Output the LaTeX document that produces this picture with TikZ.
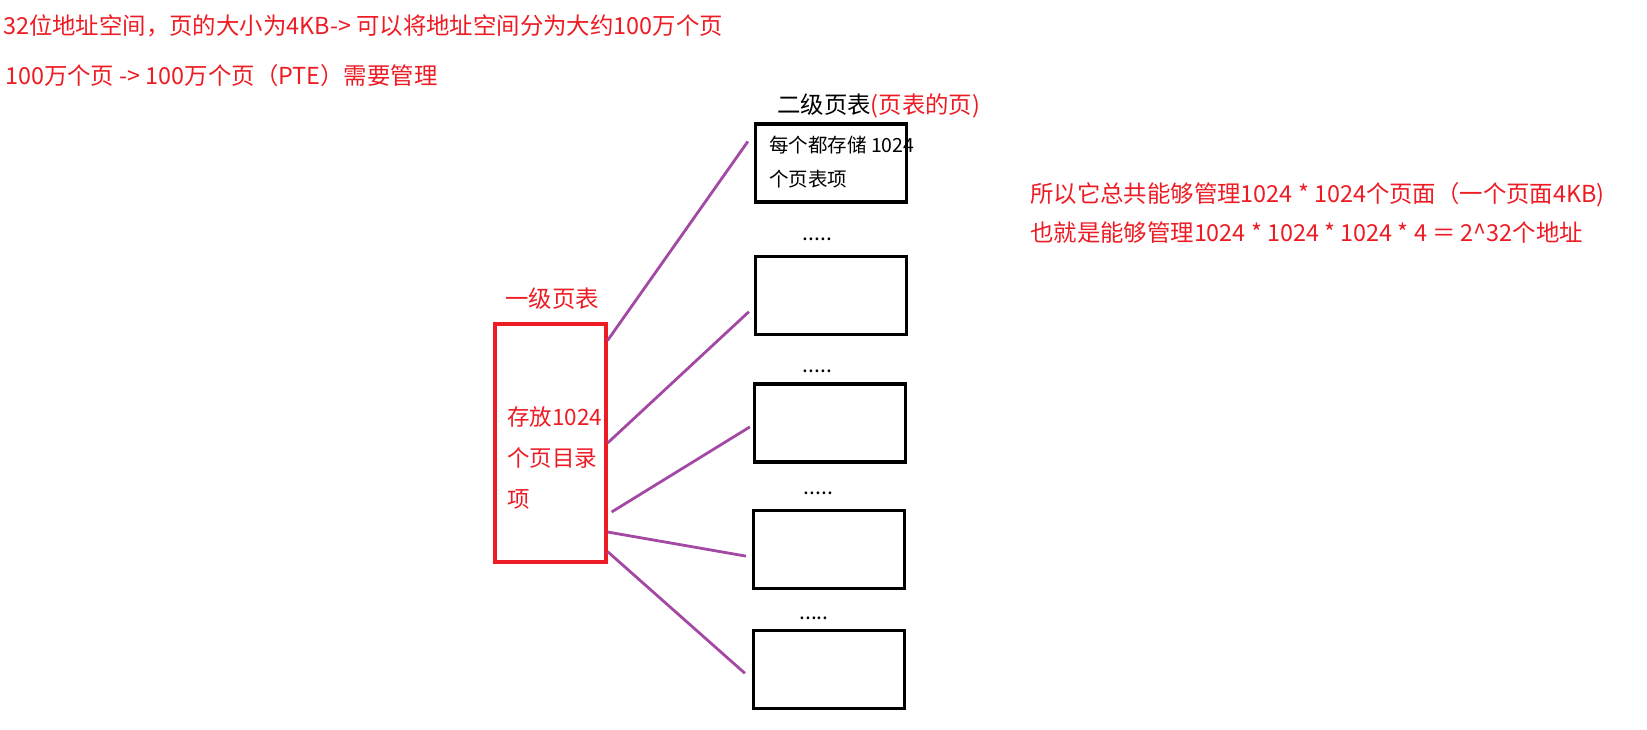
\documentclass[tikz,border=0pt]{standalone}
\usepackage{fontspec}
\setmainfont{Noto Sans CJK SC}
\usetikzlibrary{positioning}
\definecolor{pagered}{HTML}{ED1C24}
\definecolor{linkpurple}{HTML}{A349A4}

\begin{document}
\begin{tikzpicture}[x=1pt,y=-1pt, node distance=50pt,
  tbl/.style={draw,line width=3.2pt,minimum width=151pt,minimum height=78pt,inner sep=0pt},
  note/.style={text=pagered,inner sep=0pt,anchor=west,align=left,font=\fontsize{23.4}{39}\selectfont},
  dots/.style={inner sep=0pt,anchor=base,font=\fontsize{21}{24}\selectfont},
  link/.style={draw=linkpurple,line width=2.8pt}]
\useasboundingbox (0,0) rectangle (1647,729);
% notes at the top and on the right
\node[note] (head1) at (3,26) {32位地址空间，页的大小为4KB-> 可以将地址空间分为大约100万个页};
\node[note] (head2) at (5,76) {100万个页 -> 100万个页（PTE）需要管理};
\node[note] (sum) at (1030,213) {所以它总共能够管理1024 * 1024个页面（一个页面4KB)\\也就是能够管理1024 * 1024 * 1024 * 4 ＝ 2\^{}32个地址};
% first level table
\node[draw=pagered,line width=3.2pt,minimum width=111pt,minimum height=238pt,inner sep=0pt] (l1) at (550.5,443) {};
\node[note,font=\fontsize{22.5}{41}\selectfont] (l1txt) at (507,458) {存放1024\\个页目录\\项};
\node[note,anchor=center] (l1title) at (552,299) {一级页表};
% second level tables
\node[tbl] (l2a) at (831,163) {};
\node[anchor=west,inner sep=0pt,font=\fontsize{23.4}{26}\selectfont] (l2title) at (777,106) {二级页表\textcolor{pagered}{(页表的页)}};
\node[anchor=west,inner sep=0pt,align=left,font=\fontsize{19.5}{34}\selectfont] (l2txt) at (769,162) {每个都存储 1024\\个页表项};
\node[tbl,below=51.5pt of l2a] (l2b) {};
\node[tbl,below=46pt of l2b,xshift=-1pt] (l2c) {};
\node[tbl,below=45pt of l2c,xshift=-1pt] (l2d) {};
\node[tbl,below=39pt of l2d] (l2e) {};
\node[dots] (d1) at (817.5,240) {.....};
\node[dots] (d2) at (817.5,372) {.....};
\node[dots] (d3) at (818.5,494) {.....};
\node[dots] (d4) at (814,619) {.....};
% links
\draw[link] ([yshift=-18pt]l1.north east) -- ([xshift=-6pt,yshift=-19pt]l2a.north west);
\draw[link] (l1.east) -- ([xshift=-5pt,yshift=-16pt]l2b.west);
\draw[link] ([xshift=4pt,yshift=-69pt]l1.east) -- ([xshift=-3pt,yshift=-4pt]l2c.west);
\draw[link] ([yshift=-89pt]l1.east) -- ([xshift=-6pt,yshift=-7pt]l2d.west);
\draw[link] ([yshift=12pt]l1.south east) -- ([xshift=-7pt,yshift=-4pt]l2e.west);
\end{tikzpicture}
\end{document}
